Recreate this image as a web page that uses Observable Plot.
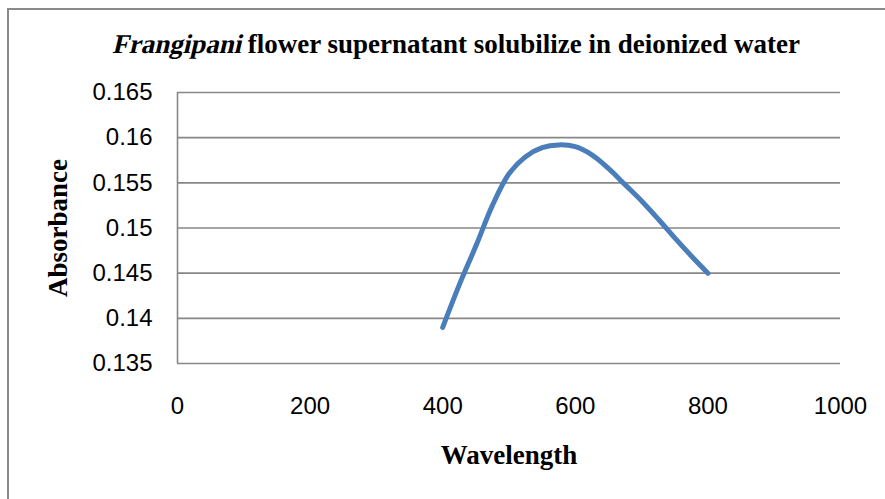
<!DOCTYPE html>
<html>
<head>
<meta charset="utf-8">
<script src="https://cdn.jsdelivr.net/npm/d3@7"></script>
<script src="https://cdn.jsdelivr.net/npm/@observablehq/plot@0.6"></script>
<style>
  html, body { margin: 0; padding: 0; background: #fff; }
  #chart { width: 885px; height: 499px; }
</style>
</head>
<body>
<div id="chart"></div>
<script>
// Data
const wavelength = [400, 425, 450, 475, 500, 525, 550, 575, 600, 625, 650, 675, 700, 725, 750, 775, 800];
const absorbance = [0.1390, 0.1437, 0.1480, 0.1525, 0.1560, 0.1579, 0.1589, 0.1592, 0.1590, 0.1581, 0.1566, 0.1548, 0.1530, 0.1510, 0.1489, 0.1469, 0.1450];
const xTicks = [0, 200, 400, 600, 800, 1000];
const yTicks = [0.135, 0.14, 0.145, 0.15, 0.155, 0.16, 0.165];
const titleItalic = "Frangipani";
const titleRest = " flower supernatant solubilize in deionized water";
const xLabel = "Wavelength";
const yLabel = "Absorbance";

const data = wavelength.map((w, i) => ({w, a: absorbance[i]}));
const grid = "#878787";
const sans = "'Liberation Sans', Arial, sans-serif";
const serif = "'Liberation Serif', 'Times New Roman', 'DejaVu Serif', serif";

const chart = Plot.plot({
  width: 885,
  height: 499,
  marginLeft: 177,
  marginRight: 45,
  marginTop: 92,
  marginBottom: 136,
  style: {fontFamily: sans, fontSize: "24px", color: "#000", background: "#fff", overflow: "visible"},
  x: {domain: [0, 1000], ticks: xTicks, label: null},
  y: {domain: [0.135, 0.165], ticks: yTicks, label: null},
  marks: [
    Plot.ruleY(yTicks, {stroke: grid, strokeWidth: 1.6}),
    Plot.ruleX([0], {stroke: grid, strokeWidth: 1.6}),
    Plot.axisY({ticks: yTicks, tickSize: 0, tickPadding: 25, tickFormat: d => String(+d.toFixed(3)), fontSize: 24, fill: "#000"}),
    Plot.axisX({ticks: xTicks, tickSize: 0, tickPadding: 33, tickFormat: d => String(d), fontSize: 24, fill: "#000"}),
    Plot.line(data, {x: "w", y: "a", curve: "catmull-rom", stroke: "#4a7ebb", strokeWidth: 5, strokeLinecap: "round", strokeLinejoin: "round"})
  ]
});

document.getElementById("chart").appendChild(chart);

const svg = d3.select(chart);
// outer chart frame (top and left edges visible)
svg.append("path")
  .attr("d", "M8,499 L8,9 L885,9")
  .attr("fill", "none")
  .attr("stroke", "#8a8a8a")
  .attr("stroke-width", 2);

const fs = 27;
// title: italic part (serif, slanted) + bold serif rest, centred as a whole
const tItal = svg.append("text")
  .attr("x", 0).attr("y", 53)
  .attr("text-anchor", "start")
  .attr("font-family", serif)
  .attr("font-size", fs)
  .attr("font-weight", "bold")
  .attr("fill", "#000")
  .text(titleItalic);
const tRest = svg.append("text")
  .attr("x", 0).attr("y", 53)
  .attr("text-anchor", "start")
  .attr("font-family", serif)
  .attr("font-size", fs)
  .attr("font-weight", "bold")
  .attr("fill", "#000")
  .style("white-space", "pre")
  .text(titleRest);
const w1 = tItal.node().getComputedTextLength();
const w2 = tRest.node().getComputedTextLength();
const x0 = 456 - (w1 + w2) / 2;
const sh = 53 * Math.tan(13 * Math.PI / 180);
tItal.attr("transform", `translate(${x0 + sh},0) skewX(-13)`);
tRest.attr("x", x0 + w1);

// x axis title
svg.append("text")
  .attr("x", 509).attr("y", 464)
  .attr("text-anchor", "middle")
  .attr("font-family", serif)
  .attr("font-size", fs)
  .attr("font-weight", "bold")
  .attr("fill", "#000")
  .text(xLabel);

// y axis title
svg.append("text")
  .attr("transform", "translate(67,228) rotate(-90)")
  .attr("text-anchor", "middle")
  .attr("font-family", serif)
  .attr("font-size", fs)
  .attr("font-weight", "bold")
  .attr("fill", "#000")
  .text(yLabel);
</script>
</body>
</html>
